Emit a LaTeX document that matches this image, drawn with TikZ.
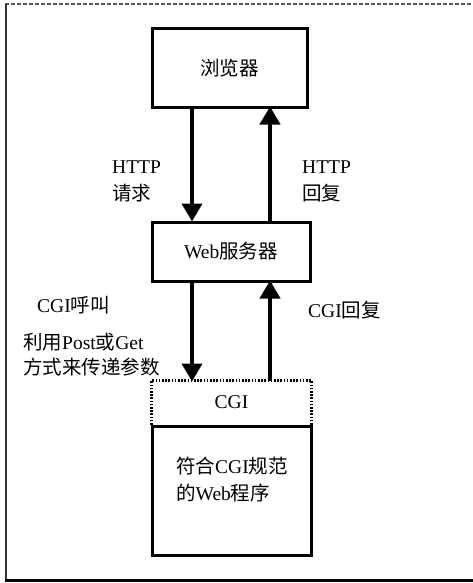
\documentclass[tikz,border=0pt]{standalone}
\usepackage{fontspec}
\setmainfont{Liberation Serif}
\newfontfamily\cjkfont{Noto Sans CJK SC}
\newcommand\zhs[1]{{\cjkfont #1}}
\usetikzlibrary{arrows.meta}
\tikzset{
  box/.style={draw=black, line width=3pt, minimum width=#1, inner sep=0pt},
  lbl/.style={anchor=west, inner sep=0pt, align=left, font=\fontsize{19.5}{27}\selectfont},
  arr/.style={line width=4.2pt, -{Triangle[width=20pt,length=18pt]}},
}
\begin{document}
\begin{tikzpicture}[x=1pt,y=-1pt, font=\fontsize{19.5}{27}\selectfont]
\useasboundingbox (0,0) rectangle (473,583);
% frame
\draw[gray!70!black, line width=1.2pt, dash pattern=on 4pt off 2pt] (5,4) -- (473,4);
\draw[line width=2.5pt, gray!40!black] (6,4) -- (6,580);
\draw[line width=3pt] (5,580) -- (473,580);
% boxes
\node[box=155pt, minimum height=79pt] (browser) at (229.5,68.5) {\zhs{浏览器}};
\node[box=158pt, minimum height=59pt] (web) at (231,251.5) {Web\zhs{服务器}};
\node[box=157pt, minimum height=41pt, draw=none] (cgi) at (231.5,402.5) {CGI};
\draw[line width=2.5pt, dash pattern=on 1.6pt off 1.6pt] (cgi.south west) -- (cgi.north west) -- (cgi.north east) -- (cgi.south east);
\node[box=159pt, minimum height=129pt, anchor=north] (prog) at (cgi.south) {};
\node[lbl, anchor=center, align=left] (progtext) at (232,480) {\zhs{符合}CGI\zhs{规范}\\\zhs{的}Web\zhs{程序}};
% x positions
\coordinate (xl) at (192,0);
\coordinate (xr) at (270,0);
% arrows
\draw[arr] (browser.south -| xl) -- ([yshift=-1pt]web.north -| xl);
\draw[arr] (web.north -| xr) -- ([yshift=3pt]browser.south -| xr);
\draw[arr] (web.south -| xl) -- ([yshift=-1pt]cgi.north -| xl);
\draw[arr] (cgi.north -| xr) -- ([yshift=2pt]web.south -| xr);
% labels
\node[lbl] (httpreq) at (112,181) {HTTP\\\zhs{请求}};
\node[lbl] (httpres) at (302,181.5) {HTTP\\\zhs{回复}};
\node[lbl] (cgicall) at (37,305) {CGI\zhs{呼叫}};
\node[lbl, font=\fontsize{19.5}{25}\selectfont] (params) at (23,354.5) {\zhs{利用}Post\zhs{或}Get\\\zhs{方式来传递参数}};
\node[lbl] (cgires) at (308,310) {CGI\zhs{回复}};
\end{tikzpicture}
\end{document}
